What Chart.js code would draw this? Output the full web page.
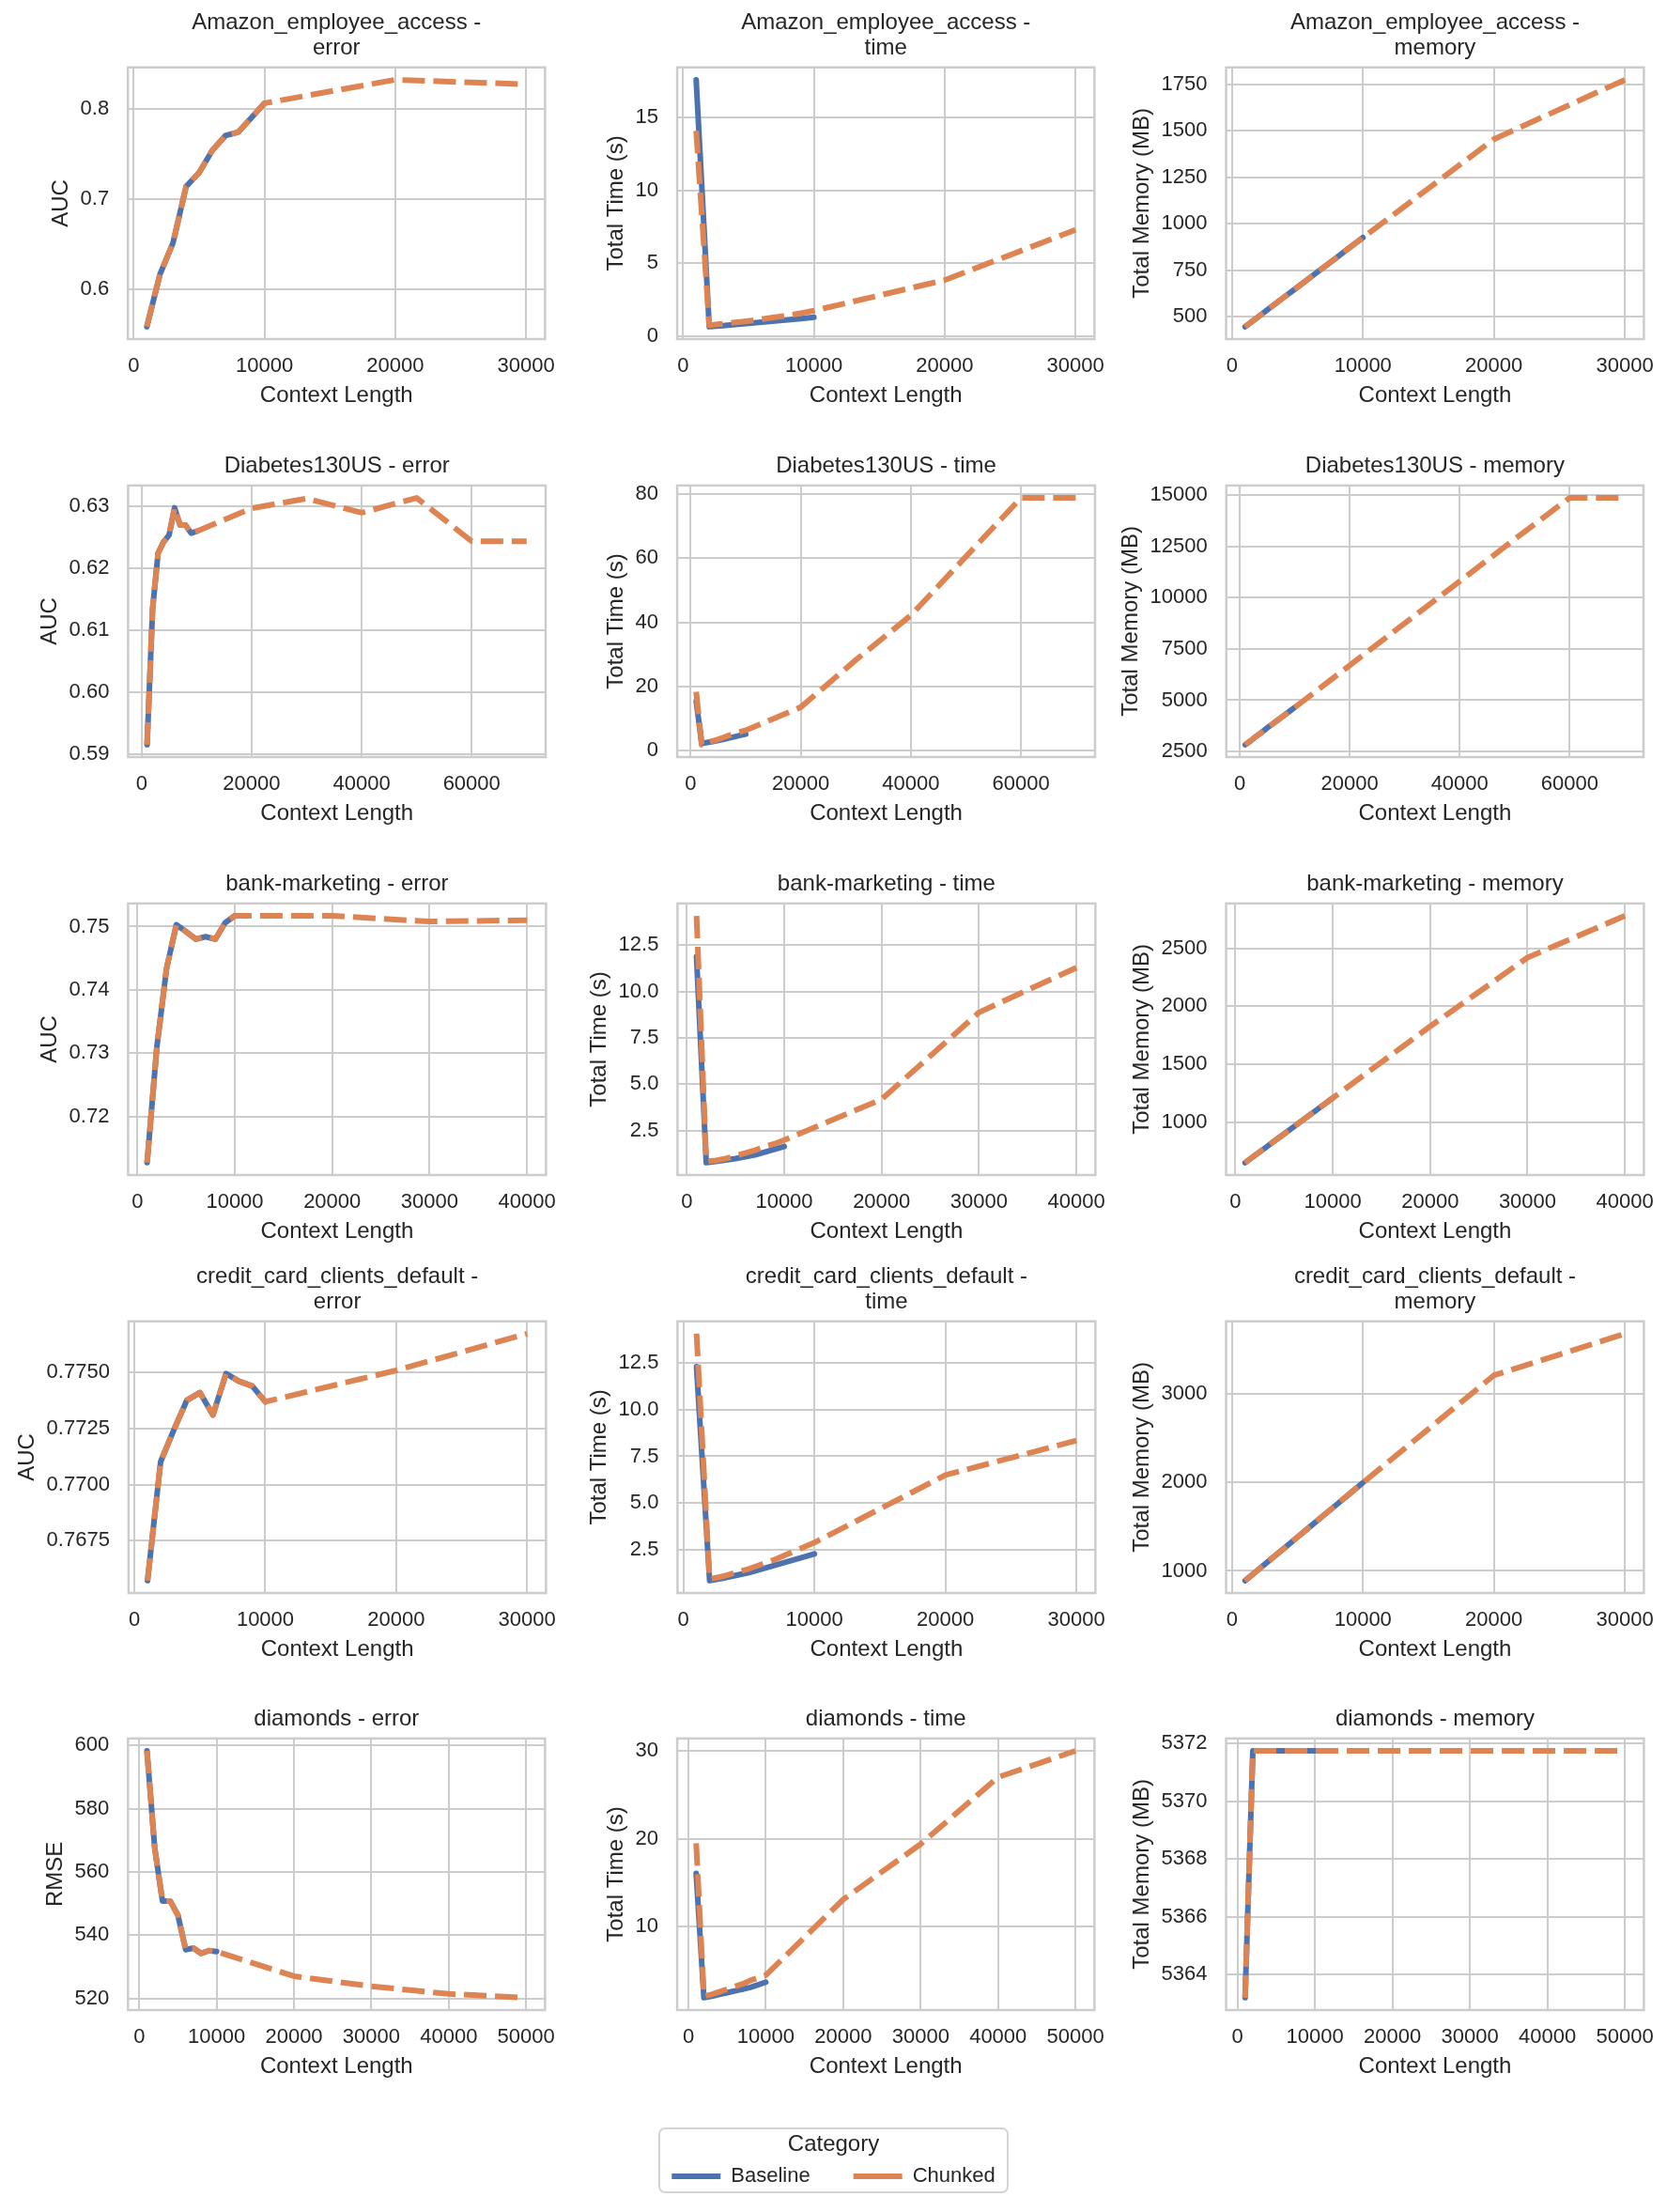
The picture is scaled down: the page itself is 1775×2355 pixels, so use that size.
<!DOCTYPE html>
<html>
<head>
<meta charset="utf-8">
<script src="https://cdn.jsdelivr.net/npm/chart.js@4.4.1/dist/chart.umd.min.js"></script>
<style>
html,body{margin:0;padding:0;background:#ffffff;}
body{width:1775px;height:2355px;position:relative;overflow:hidden;}
canvas.panel{position:absolute;}
#legendBox{position:absolute;left:701px;top:2265px;width:373px;height:70px;border:2px solid #d4d4d4;border-radius:7px;overflow:hidden;box-sizing:border-box;background:#fff;}
#legendCanvas{position:absolute;left:-46px;top:0;}
</style>
</head>
<body>
<div id="legendBox"><canvas id="legendCanvas" width="461" height="200"></canvas></div>
<script>
// ---------------- DATA ----------------
const baselineLength = [1000, 2000, 3000, 4000, 5000, 6000, 7000, 8000, 9000, 10000];
const amazonLength   = [1000, 2000, 3000, 4000, 5000, 6000, 7000, 8000, 9000, 10000, 20000, 30000];
const diabetesLength = [1000, 2000, 3000, 4000, 5000, 6000, 7000, 8000, 9000, 10000, 20000, 30000, 40000, 50000, 60000, 70000];
const bankLength     = [1000, 2000, 3000, 4000, 5000, 6000, 7000, 8000, 9000, 10000, 20000, 30000, 40000];
const creditLength   = [1000, 2000, 3000, 4000, 5000, 6000, 7000, 8000, 9000, 10000, 20000, 30000];
const diamondsLength = [1000, 2000, 3000, 4000, 5000, 6000, 7000, 8000, 9000, 10000, 20000, 30000, 40000, 50000];

const amazonErrorBaseline = [0.558, 0.616, 0.651, 0.7135, 0.729, 0.7535, 0.770, 0.774, 0.790, 0.806];
const amazonErrorChunked  = [0.558, 0.616, 0.651, 0.7135, 0.729, 0.7535, 0.770, 0.774, 0.790, 0.806, 0.832, 0.827];
const amazonTimeBaseline  = [17.6, 0.65, 0.72, 0.80, 0.88, 0.96, 1.04, 1.12, 1.20, 1.30];
const amazonTimeChunked   = [14.1, 0.75, 0.85, 0.95, 1.05, 1.17, 1.30, 1.42, 1.58, 1.75, 3.85, 7.3];
const amazonMemoryBaseline = [445, 498, 552, 605, 658, 712, 765, 818, 872, 925];
const amazonMemoryChunked  = [445, 498, 552, 605, 658, 712, 765, 818, 872, 925, 1455, 1775];

const diabetesErrorBaseline = [0.5916, 0.6135, 0.6225, 0.6243, 0.6254, 0.6298, 0.6270, 0.6270, 0.6257, 0.6260];
const diabetesErrorChunked  = [0.5916, 0.6135, 0.6225, 0.6243, 0.6254, 0.6298, 0.6270, 0.6270, 0.6257, 0.6260, 0.6297, 0.6313, 0.6290, 0.6314, 0.6244, 0.6244];
const diabetesTimeBaseline  = [15.5, 2.3, 2.6, 2.9, 3.2, 3.6, 4.0, 4.4, 4.8, 5.2];
const diabetesTimeChunked   = [18.4, 1.9, 2.6, 3.1, 3.6, 4.2, 4.8, 5.3, 5.9, 6.4, 13.6, 28.3, 42.2, 60.5, 78.8, 78.8];
const diabetesMemoryBaseline = [2830, 3030, 3240, 3440, 3650, 3850, 4050, 4250, 4450, 4650];
const diabetesMemoryChunked  = [2830, 3030, 3240, 3440, 3650, 3850, 4050, 4250, 4450, 4650, 6700, 8750, 10800, 12850, 14870, 14870];

const bankErrorBaseline = [0.7127, 0.7310, 0.7434, 0.7503, 0.7492, 0.7480, 0.7484, 0.7480, 0.7506, 0.7517];
const bankErrorChunked  = [0.7127, 0.7310, 0.7434, 0.7503, 0.7492, 0.7480, 0.7484, 0.7480, 0.7506, 0.7517, 0.7517, 0.7508, 0.7510];
const bankTimeBaseline  = [11.87, 0.78, 0.85, 0.92, 1.00, 1.10, 1.20, 1.35, 1.50, 1.65];
const bankTimeChunked   = [14.07, 0.85, 0.90, 1.00, 1.15, 1.30, 1.45, 1.65, 1.80, 2.00, 4.19, 8.87, 11.28];
const bankMemoryBaseline = [650, 712, 774, 836, 898, 960, 1022, 1084, 1146, 1208];
const bankMemoryChunked  = [650, 712, 774, 836, 898, 960, 1022, 1084, 1146, 1208, 1826, 2420, 2780];

const creditErrorBaseline = [0.76571, 0.77102, 0.77243, 0.77376, 0.77411, 0.77311, 0.77496, 0.77461, 0.77440, 0.77370];
const creditErrorChunked  = [0.76571, 0.77102, 0.77243, 0.77376, 0.77411, 0.77311, 0.77496, 0.77461, 0.77440, 0.77370, 0.77510, 0.77674];
const creditTimeBaseline  = [12.28, 0.87, 1.00, 1.15, 1.30, 1.50, 1.70, 1.90, 2.10, 2.30];
const creditTimeChunked   = [14.04, 0.95, 1.10, 1.30, 1.50, 1.75, 2.00, 2.30, 2.60, 2.90, 6.50, 8.34];
const creditMemoryBaseline = [890, 1013, 1136, 1259, 1382, 1505, 1628, 1751, 1874, 1997];
const creditMemoryChunked  = [890, 1013, 1136, 1259, 1382, 1505, 1628, 1751, 1874, 1997, 3210, 3680];

const diamondsErrorBaseline = [598.3, 567.6, 550.8, 550.8, 546.3, 535.4, 535.9, 534.2, 535.1, 534.8];
const diamondsErrorChunked  = [598.3, 567.6, 550.8, 550.8, 546.3, 535.4, 535.9, 534.2, 535.1, 534.8, 527.0, 523.8, 521.4, 520.2];
const diamondsTimeBaseline  = [16.07, 1.93, 2.10, 2.30, 2.50, 2.70, 2.90, 3.10, 3.40, 3.70];
const diamondsTimeChunked   = [19.5, 2.10, 2.30, 2.60, 2.90, 3.20, 3.50, 3.90, 4.20, 4.50, 13.1, 19.4, 27.0, 30.0];
const diamondsMemoryBaseline = [5363.2, 5371.75, 5371.75, 5371.75, 5371.75, 5371.75, 5371.75, 5371.75, 5371.75, 5371.75];
const diamondsMemoryChunked  = [5363.2, 5371.75, 5371.75, 5371.75, 5371.75, 5371.75, 5371.75, 5371.75, 5371.75, 5371.75, 5371.75, 5371.75, 5371.75, 5371.75];

// tick labels
const amazonXTicks   = ['0', '10000', '20000', '30000'];
const diabetesXTicks = ['0', '20000', '40000', '60000'];
const bankXTicks     = ['0', '10000', '20000', '30000', '40000'];
const creditXTicks   = ['0', '10000', '20000', '30000'];
const diamondsXTicks = ['0', '10000', '20000', '30000', '40000', '50000'];

const amazonErrorYTicks  = ['0.6', '0.7', '0.8'];
const amazonTimeYTicks   = ['0', '5', '10', '15'];
const amazonMemoryYTicks = ['500', '750', '1000', '1250', '1500', '1750'];
const diabetesErrorYTicks  = ['0.59', '0.60', '0.61', '0.62', '0.63'];
const diabetesTimeYTicks   = ['0', '20', '40', '60', '80'];
const diabetesMemoryYTicks = ['2500', '5000', '7500', '10000', '12500', '15000'];
const bankErrorYTicks  = ['0.72', '0.73', '0.74', '0.75'];
const bankTimeYTicks   = ['2.5', '5.0', '7.5', '10.0', '12.5'];
const bankMemoryYTicks = ['1000', '1500', '2000', '2500'];
const creditErrorYTicks  = ['0.7675', '0.7700', '0.7725', '0.7750'];
const creditTimeYTicks   = ['2.5', '5.0', '7.5', '10.0', '12.5'];
const creditMemoryYTicks = ['1000', '2000', '3000'];
const diamondsErrorYTicks  = ['520', '540', '560', '580', '600'];
const diamondsTimeYTicks   = ['10', '20', '30'];
const diamondsMemoryYTicks = ['5364', '5366', '5368', '5370', '5372'];

const seriesNames = ['Baseline', 'Chunked'];
const seriesColors = ['#4c72b0', '#dd8452'];

// ---------------- PANELS ----------------
const panels = [
  {row:0, col:0, title:['Amazon_employee_access -', 'error'],  yLabel:'AUC', xs:amazonLength, base:amazonErrorBaseline, chunk:amazonErrorChunked, xTicks:amazonXTicks, yTicks:amazonErrorYTicks},
  {row:0, col:1, title:['Amazon_employee_access -', 'time'],   yLabel:'Total Time (s)', xs:amazonLength, base:amazonTimeBaseline, chunk:amazonTimeChunked, xTicks:amazonXTicks, yTicks:amazonTimeYTicks},
  {row:0, col:2, title:['Amazon_employee_access -', 'memory'], yLabel:'Total Memory (MB)', xs:amazonLength, base:amazonMemoryBaseline, chunk:amazonMemoryChunked, xTicks:amazonXTicks, yTicks:amazonMemoryYTicks},
  {row:1, col:0, title:'Diabetes130US - error',  yLabel:'AUC', xs:diabetesLength, base:diabetesErrorBaseline, chunk:diabetesErrorChunked, xTicks:diabetesXTicks, yTicks:diabetesErrorYTicks},
  {row:1, col:1, title:'Diabetes130US - time',   yLabel:'Total Time (s)', xs:diabetesLength, base:diabetesTimeBaseline, chunk:diabetesTimeChunked, xTicks:diabetesXTicks, yTicks:diabetesTimeYTicks},
  {row:1, col:2, title:'Diabetes130US - memory', yLabel:'Total Memory (MB)', xs:diabetesLength, base:diabetesMemoryBaseline, chunk:diabetesMemoryChunked, xTicks:diabetesXTicks, yTicks:diabetesMemoryYTicks},
  {row:2, col:0, title:'bank-marketing - error',  yLabel:'AUC', xs:bankLength, base:bankErrorBaseline, chunk:bankErrorChunked, xTicks:bankXTicks, yTicks:bankErrorYTicks},
  {row:2, col:1, title:'bank-marketing - time',   yLabel:'Total Time (s)', xs:bankLength, base:bankTimeBaseline, chunk:bankTimeChunked, xTicks:bankXTicks, yTicks:bankTimeYTicks},
  {row:2, col:2, title:'bank-marketing - memory', yLabel:'Total Memory (MB)', xs:bankLength, base:bankMemoryBaseline, chunk:bankMemoryChunked, xTicks:bankXTicks, yTicks:bankMemoryYTicks},
  {row:3, col:0, title:['credit_card_clients_default -', 'error'],  yLabel:'AUC', xs:creditLength, base:creditErrorBaseline, chunk:creditErrorChunked, xTicks:creditXTicks, yTicks:creditErrorYTicks},
  {row:3, col:1, title:['credit_card_clients_default -', 'time'],   yLabel:'Total Time (s)', xs:creditLength, base:creditTimeBaseline, chunk:creditTimeChunked, xTicks:creditXTicks, yTicks:creditTimeYTicks},
  {row:3, col:2, title:['credit_card_clients_default -', 'memory'], yLabel:'Total Memory (MB)', xs:creditLength, base:creditMemoryBaseline, chunk:creditMemoryChunked, xTicks:creditXTicks, yTicks:creditMemoryYTicks},
  {row:4, col:0, title:'diamonds - error',  yLabel:'RMSE', xs:diamondsLength, base:diamondsErrorBaseline, chunk:diamondsErrorChunked, xTicks:diamondsXTicks, yTicks:diamondsErrorYTicks},
  {row:4, col:1, title:'diamonds - time',   yLabel:'Total Time (s)', xs:diamondsLength, base:diamondsTimeBaseline, chunk:diamondsTimeChunked, xTicks:diamondsXTicks, yTicks:diamondsTimeYTicks},
  {row:4, col:2, title:'diamonds - memory', yLabel:'Total Memory (MB)', xs:diamondsLength, base:diamondsMemoryBaseline, chunk:diamondsMemoryChunked, xTicks:diamondsXTicks, yTicks:diamondsMemoryYTicks}
];

// ---------------- LAYOUT / STYLE ----------------
const PLOT_LEFT = [136.5, 721, 1305.5];
const PLOT_TOP = [71.7, 516.7, 961.7, 1406.3, 1850.7];
const PLOT_W = 444.5;
const PLOT_H = 289;
const TEXT = '#262626';
const GRID = '#cccccc';

Chart.defaults.font.family = "'Liberation Sans', Arial, Helvetica, sans-serif";
Chart.defaults.color = TEXT;

const framePlugin = {
  id: 'frame',
  afterDatasetsDraw(chart) {
    const a = chart.chartArea, ctx = chart.ctx;
    ctx.save();
    ctx.strokeStyle = GRID;
    ctx.lineWidth = 2.5;
    ctx.strokeRect(a.left, a.top, a.right - a.left, a.bottom - a.top);
    ctx.restore();
  }
};

function paddedRange(values) {
  const lo = Math.min(...values), hi = Math.max(...values);
  const m = (hi - lo) * 0.05;
  return {min: lo - m, max: hi + m};
}

function datasetStyle(i) {
  return {
    label: seriesNames[i],
    borderColor: seriesColors[i],
    backgroundColor: seriesColors[i],
    borderWidth: 6,
    borderDash: i === 1 ? [24, 9] : [],
    borderCapStyle: i === 1 ? 'butt' : 'round',
    borderJoinStyle: 'round',
    pointRadius: 0,
    pointHoverRadius: 0,
    tension: 0,
    fill: false,
    order: i === 1 ? 0 : 1
  };
}

function buildConfig(p) {
  const xr = paddedRange(p.xs.concat(baselineLength));
  const yr = paddedRange(p.base.concat(p.chunk));
  const xVals = p.xTicks.map(Number);
  const yVals = p.yTicks.map(Number);
  return {
    type: 'line',
    data: {
      datasets: [
        Object.assign(datasetStyle(0), {data: baselineLength.map((x, i) => ({x: x, y: p.base[i]}))}),
        Object.assign(datasetStyle(1), {data: p.xs.map((x, i) => ({x: x, y: p.chunk[i]}))})
      ]
    },
    options: {
      responsive: false,
      maintainAspectRatio: false,
      animation: false,
      events: [],
      layout: {padding: 0},
      plugins: {
        legend: {display: false},
        tooltip: {enabled: false},
        title: {
          display: true, text: p.title, fullSize: false, color: TEXT,
          font: {size: 24, weight: 'normal', lineHeight: 1.12},
          padding: {top: 4, bottom: 7}
        }
      },
      scales: {
        x: {
          type: 'linear', min: xr.min, max: xr.max,
          afterBuildTicks: (s) => { s.ticks = xVals.map(v => ({value: v})); },
          ticks: {callback: (v, i) => p.xTicks[i], font: {size: 22}, color: TEXT, padding: 16, autoSkip: false, maxRotation: 0, minRotation: 0},
          grid: {color: GRID, lineWidth: 2, drawTicks: false},
          border: {display: false},
          title: {display: true, text: 'Context Length', color: TEXT, font: {size: 24, lineHeight: 1.15}, padding: {top: -12, bottom: 2}}
        },
        y: {
          type: 'linear', min: yr.min, max: yr.max,
          afterBuildTicks: (s) => { s.ticks = yVals.map(v => ({value: v})); },
          ticks: {callback: (v, i) => p.yTicks[i], font: {size: 22}, color: TEXT, padding: 20, autoSkip: false},
          grid: {color: GRID, lineWidth: 2, drawTicks: false},
          border: {display: false},
          title: {display: true, text: p.yLabel, color: TEXT, font: {size: 24, lineHeight: 1.15}, padding: {top: 2, bottom: -14}}
        }
      }
    },
    plugins: [framePlugin]
  };
}

panels.forEach((p) => {
  const canvas = document.createElement('canvas');
  canvas.className = 'panel';
  canvas.width = 640;
  canvas.height = 460;
  document.body.appendChild(canvas);
  const chart = new Chart(canvas, buildConfig(p));
  for (let k = 0; k < 3; k++) {
    const a = chart.chartArea;
    const W = Math.round(a.left + PLOT_W + (chart.width - a.right));
    const H = Math.round(a.top + PLOT_H + (chart.height - a.bottom));
    if (W !== chart.width || H !== chart.height) chart.resize(W, H);
  }
  const a = chart.chartArea;
  canvas.style.left = (PLOT_LEFT[p.col] - a.left) + 'px';
  canvas.style.top = (PLOT_TOP[p.row] - a.top) + 'px';
});

// ---------------- LEGEND ----------------
new Chart(document.getElementById('legendCanvas'), {
  type: 'line',
  data: {
    datasets: [
      Object.assign(datasetStyle(0), {data: []}),
      Object.assign(datasetStyle(1), {data: []})
    ]
  },
  options: {
    responsive: false,
    maintainAspectRatio: false,
    animation: false,
    events: [],
    layout: {padding: 0},
    scales: {x: {display: false}, y: {display: false}},
    plugins: {
      tooltip: {enabled: false},
      legend: {
        display: true,
        position: 'top',
        labels: {
          usePointStyle: true, pointStyle: 'line', pointStyleWidth: 52,
          font: {size: 22}, color: TEXT, padding: 46,
          sort: (a, b) => a.datasetIndex - b.datasetIndex
        },
        title: {display: true, text: 'Category', color: TEXT, font: {size: 24}, padding: {top: 4, bottom: -39.8}}
      }
    }
  }
});
</script>
</body>
</html>
